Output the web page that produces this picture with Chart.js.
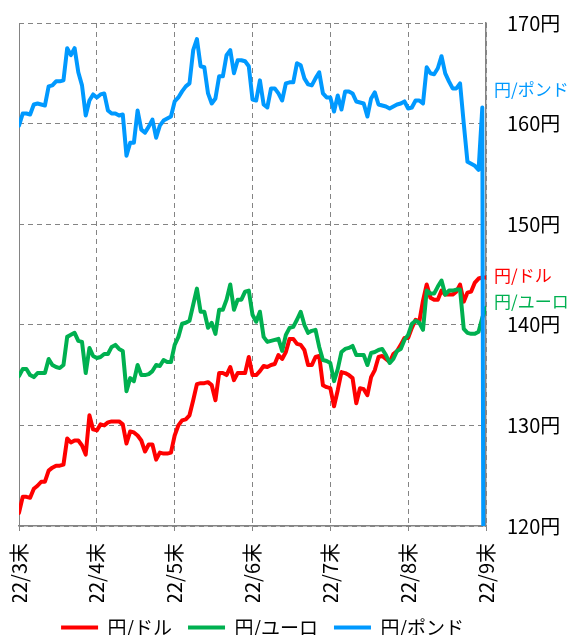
<!DOCTYPE html>
<html>
<head>
<meta charset="utf-8">
<script src="https://cdn.jsdelivr.net/npm/chart.js@4.4.1/dist/chart.umd.min.js"></script>
<style>
  html, body { margin: 0; padding: 0; background: #fff; }
  #wrap { width: 567px; height: 635px; }
</style>
</head>
<body>
<div id="wrap"><canvas id="c" width="567" height="635"></canvas></div>
<script>
// ---- data (business-day index from '22/3末 to '22/9末) ----
const monthLabels = ["'22/3末", "'22/4末", "'22/5末", "'22/6末", "'22/7末", "'22/8末", "'22/9末"];
const monthIdx = [0, 21, 42, 63, 84, 105, 126];
const seriesNames = ["円/ドル", "円/ユーロ", "円/ポンド"];

const usd = [121.3,122.9,122.9,122.8,123.7,124.0,124.4,124.4,125.5,125.8,
  126.0,126.0,126.1,128.7,128.3,128.5,128.5,128.0,127.1,131.0,
  129.6,129.5,130.1,130.0,130.3,130.4,130.4,130.4,130.1,128.2,
  129.4,129.3,129.0,128.5,127.4,128.1,128.1,126.6,127.3,127.2,
  127.2,127.3,129.0,130.0,130.5,130.6,131.0,132.5,134.1,134.2,
  134.2,134.3,134.0,132.5,135.2,135.2,135.0,135.8,134.5,135.2,
  135.2,135.2,136.8,135.0,135.0,135.4,135.9,135.8,136.0,136.1,
  137.0,136.6,137.3,138.6,138.6,138.1,138.0,137.5,136.0,136.0,
  136.8,136.9,134.0,133.8,133.7,131.9,133.5,135.3,135.2,135.0,
  134.7,132.2,133.7,133.6,133.0,134.8,135.5,136.8,136.9,136.6,
  136.3,137.1,137.4,138.0,138.7,138.7,139.7,140.5,140.3,142.4,
  144.0,142.7,142.5,142.5,143.4,143.0,143.0,143.0,143.3,144.0,
  142.3,143.2,143.3,144.2,144.6,144.7,144.7];

const eur = [134.9,135.6,135.6,135.0,134.8,135.2,135.2,135.2,136.6,136.0,
  135.8,135.7,136.0,138.8,139.0,139.2,138.4,138.3,135.2,137.7,
  136.9,136.7,136.8,137.1,137.1,137.8,138.0,137.6,137.4,133.4,
  134.7,134.4,136.0,135.0,135.0,135.1,135.4,136.0,135.9,136.5,
  136.3,136.3,138.0,138.8,140.1,140.2,140.4,142.0,143.6,141.3,
  141.3,139.7,140.2,139.1,141.5,141.5,142.5,144.0,141.5,142.5,
  142.5,143.3,143.4,141.0,140.3,141.3,138.8,138.3,138.4,138.5,
  138.6,137.4,139.0,139.7,139.8,140.5,141.3,140.0,139.2,139.4,
  139.5,137.8,136.5,136.4,136.2,134.4,135.6,137.3,137.6,137.7,
  137.9,137.0,137.0,137.0,136.0,137.2,137.3,137.5,137.6,137.0,
  136.2,136.6,137.4,137.6,138.5,139.0,140.1,140.4,140.2,139.5,
  143.4,143.1,143.1,143.8,144.4,143.0,143.4,143.4,143.5,143.5,
  139.6,139.2,139.1,139.1,139.3,140.7,141.7];

const gbp = [159.8,161.0,161.0,160.9,161.9,162.0,161.9,161.8,163.7,163.8,
  164.2,164.2,164.3,167.5,166.8,167.5,165.1,163.8,160.8,162.3,
  162.9,162.6,162.9,163.0,161.3,161.0,161.0,160.8,160.9,156.8,
  158.1,158.1,161.3,159.4,159.1,159.7,160.4,158.6,159.8,160.3,
  160.5,160.7,162.2,162.6,163.2,163.7,164.0,167.3,168.4,165.7,
  165.6,163.0,162.0,162.5,164.7,164.7,166.8,167.3,165.0,166.3,
  166.3,166.2,165.7,162.4,162.3,164.3,161.9,161.6,163.5,163.5,
  163.0,162.3,164.0,164.1,164.1,166.0,165.8,164.5,163.9,163.8,
  164.5,165.1,163.0,162.6,162.6,161.2,162.8,161.4,163.2,163.2,
  163.0,162.2,162.1,162.0,160.7,162.5,163.1,161.9,161.8,161.7,
  161.5,161.7,161.9,162.0,162.2,161.5,161.6,162.3,162.3,162.0,
  165.6,165.0,164.9,165.5,166.7,165.0,164.2,163.5,163.5,164.0,
  160.0,156.2,156.0,155.8,155.4,161.6,0];

const yTicks = [120, 130, 140, 150, 160, 170];

const COLORS = ['#FF0000', '#00B050', '#0099FF'];
const GRID = '#848484';
const FONT = '"Noto Sans CJK JP", "Noto Sans", sans-serif';

const toXY = arr => arr.map((v, i) => ({ x: i, y: v }));

const endLabels = {
  id: 'endLabels',
  afterLayout(chart, args, opts) {
    if (chart.legend) { chart.legend.left += opts.legendShift; chart.legend.right += opts.legendShift; }
  },
  afterDatasetsDraw(chart, args, opts) {
    const { ctx, chartArea, scales } = chart;
    ctx.save();
    ctx.font = '17px ' + FONT;
    ctx.textBaseline = 'middle';
    ctx.textAlign = 'left';
    opts.items.forEach(it => {
      ctx.fillStyle = it.color;
      ctx.fillText(it.text, chartArea.right + 8, scales.y.getPixelForValue(it.at));
    });
    ctx.restore();
  }
};

const ds = (i, arr, order) => ({
  label: seriesNames[i], data: toXY(arr), order,
  borderColor: COLORS[i], backgroundColor: COLORS[i],
  pointBorderColor: COLORS[i], pointBackgroundColor: COLORS[i], pointBorderWidth: 4
});

new Chart(document.getElementById('c'), {
  type: 'line',
  data: { datasets: [ds(0, usd, 3), ds(1, eur, 2), ds(2, gbp, 1)] },
  options: {
    responsive: false,
    animation: false,
    devicePixelRatio: 1,
    elements: {
      line: { borderWidth: 4, tension: 0, borderJoinStyle: 'round', borderCapStyle: 'round' },
      point: { radius: 0, hoverRadius: 0 }
    },
    layout: { padding: { left: 19, top: 23, right: 0, bottom: -12 } },
    scales: {
      x: {
        type: 'linear',
        min: 0, max: 126,
        afterBuildTicks: s => { s.ticks = monthIdx.map(v => ({ value: v })); },
        afterFit: s => { s.height = 76; },
        ticks: {
          autoSkip: false,
          minRotation: 90, maxRotation: 90,
          padding: 12,
          color: '#000',
          font: { family: FONT, size: 20 },
          callback: v => monthLabels[monthIdx.indexOf(v)]
        },
        grid: {
          color: GRID, lineWidth: 1,
          tickLength: 5, tickColor: GRID, tickBorderDash: [],
          drawOnChartArea: true
        },
        border: { display: true, color: GRID, width: 1.5, dash: c => (c.index === 0 ? [] : [5, 4]) }
      },
      y: {
        position: 'right',
        min: 120, max: 170,
        afterBuildTicks: s => { s.ticks = yTicks.map(v => ({ value: v })); },
        afterFit: s => { s.width = 81; },
        ticks: {
          padding: 0,
          color: '#000',
          font: { family: FONT, size: 20 },
          callback: v => v + '円'
        },
        grid: { color: GRID, lineWidth: 1, drawTicks: true, tickLength: 21, tickColor: 'rgba(0,0,0,0)' },
        border: { display: true, color: GRID, width: 1.5, dash: [5, 4] }
      }
    },
    plugins: {
      tooltip: { enabled: false },
      legend: {
        position: 'bottom',
        fullSize: false,
        labels: {
          usePointStyle: true,
          pointStyle: 'line',
          pointStyleWidth: 37,
          boxHeight: 4,
          padding: 16,
          color: '#000',
          font: { family: FONT, size: 19 },
          sort: (a, b) => a.datasetIndex - b.datasetIndex
        }
      },
      endLabels: {
        legendShift: 10,
        items: [
          { text: seriesNames[2], color: COLORS[2], at: 163.4 },
          { text: seriesNames[0], color: COLORS[0], at: 144.9 },
          { text: seriesNames[1], color: COLORS[1], at: 142.3 }
        ]
      }
    }
  },
  plugins: [endLabels]
});
</script>
</body>
</html>
